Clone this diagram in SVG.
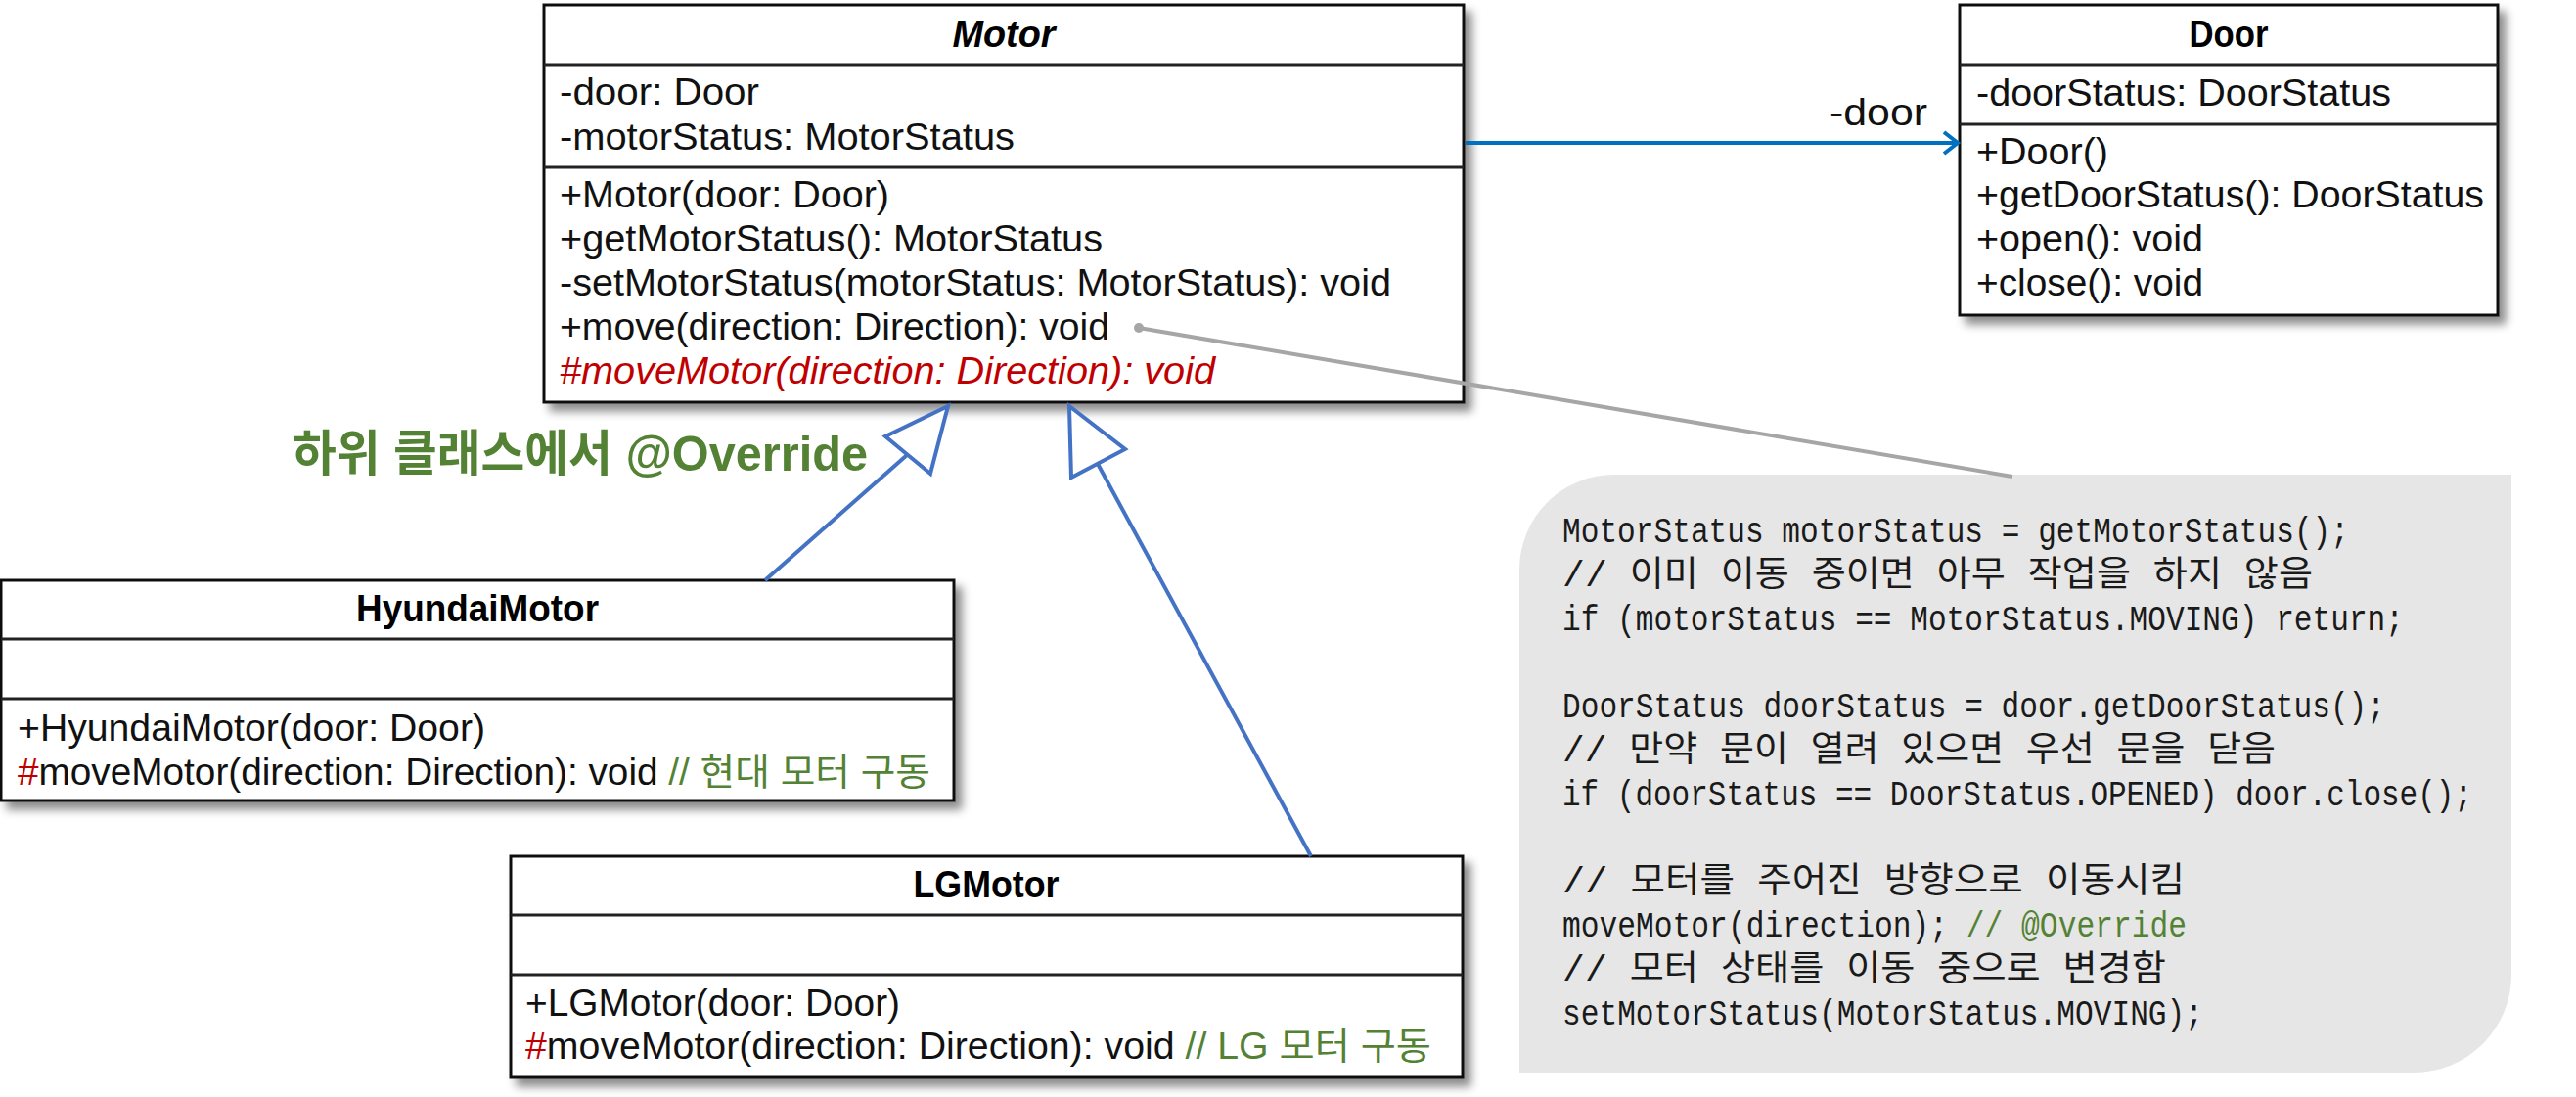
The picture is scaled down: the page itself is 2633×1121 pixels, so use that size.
<svg xmlns="http://www.w3.org/2000/svg" width="2633" height="1121" viewBox="0 0 2633 1121">
<defs>
<filter id="sh" x="-5%" y="-5%" width="115%" height="125%">
<feDropShadow dx="7" dy="8" stdDeviation="5" flood-color="#000" flood-opacity="0.45"/>
</filter>
</defs>
<style>
.box{fill:#fff;stroke:#111;stroke-width:3}
.div{stroke:#222;stroke-width:3}
.t{font-family:"Liberation Sans","Noto Sans CJK KR",sans-serif;font-size:38px;fill:#111}
.ttl{font-family:"Liberation Sans","Noto Sans CJK KR",sans-serif;font-size:38px;font-weight:bold;fill:#000;text-anchor:middle}
.code{font-family:"Liberation Mono","Noto Sans CJK KR",monospace;font-size:36px;fill:#1a1a1a}
.red{fill:#C00000}
.grn{fill:#548235}
.gen{fill:none;stroke:#4472C4;stroke-width:4}
.tri{fill:#fff;stroke:#4472C4;stroke-width:4;stroke-linejoin:miter}
</style>
<rect width="2633" height="1121" fill="#fff"/>

<g id="note">
<path d="M1650,485 L2567,485 L2567,996 A100,100 0 0 1 2467,1096 L1553,1096 L1553,582 A97,97 0 0 1 1650,485 Z" fill="#E6E6E6"/>
<text class="code" x="1597" y="554" textLength="804" lengthAdjust="spacingAndGlyphs">MotorStatus motorStatus = getMotorStatus();</text>
<text class="code" x="1597" y="599" textLength="767" lengthAdjust="spacingAndGlyphs">// 이미 이동 중이면 아무 작업을 하지 않음</text>
<text class="code" x="1597" y="644" textLength="860" lengthAdjust="spacingAndGlyphs">if (motorStatus == MotorStatus.MOVING) return;</text>
<text class="code" x="1597" y="733" textLength="841" lengthAdjust="spacingAndGlyphs">DoorStatus doorStatus = door.getDoorStatus();</text>
<text class="code" x="1597" y="778" textLength="729" lengthAdjust="spacingAndGlyphs">// 만약 문이 열려 있으면 우선 문을 닫음</text>
<text class="code" x="1597" y="823" textLength="930" lengthAdjust="spacingAndGlyphs">if (doorStatus == DoorStatus.OPENED) door.close();</text>
<text class="code" x="1597" y="912" textLength="636" lengthAdjust="spacingAndGlyphs">// 모터를 주어진 방향으로 이동시킴</text>
<text class="code" x="1597" y="957" textLength="638" lengthAdjust="spacingAndGlyphs">moveMotor(direction); <tspan style="fill:#548235">// @Override</tspan></text>
<text class="code" x="1597" y="1002" textLength="617" lengthAdjust="spacingAndGlyphs">// 모터 상태를 이동 중으로 변경함</text>
<text class="code" x="1597" y="1047" textLength="655" lengthAdjust="spacingAndGlyphs">setMotorStatus(MotorStatus.MOVING);</text>
</g>

<g id="Motor">
<rect class="box" x="556" y="5" width="940" height="406" filter="url(#sh)"/>
<line class="div" x1="556" y1="66" x2="1496" y2="66"/>
<line class="div" x1="556" y1="171" x2="1496" y2="171"/>
<text class="ttl" x="1026" y="48" font-style="italic" textLength="105" lengthAdjust="spacingAndGlyphs">Motor</text>
<text class="t" x="572" y="107" textLength="204" lengthAdjust="spacingAndGlyphs">-door: Door</text>
<text class="t" x="572" y="153" textLength="465" lengthAdjust="spacingAndGlyphs">-motorStatus: MotorStatus</text>
<text class="t" x="572" y="212" textLength="337" lengthAdjust="spacingAndGlyphs">+Motor(door: Door)</text>
<text class="t" x="572" y="257" textLength="555" lengthAdjust="spacingAndGlyphs">+getMotorStatus(): MotorStatus</text>
<text class="t" x="572" y="302" textLength="850" lengthAdjust="spacingAndGlyphs">-setMotorStatus(motorStatus: MotorStatus): void</text>
<text class="t" x="572" y="347" textLength="562" lengthAdjust="spacingAndGlyphs">+move(direction: Direction): void</text>
<text class="t red" x="572" y="392" font-style="italic" textLength="670" lengthAdjust="spacingAndGlyphs">#moveMotor(direction: Direction): void</text>
</g>

<g id="Door">
<rect class="box" x="2003" y="5" width="550" height="317" filter="url(#sh)"/>
<line class="div" x1="2003" y1="66" x2="2553" y2="66"/>
<line class="div" x1="2003" y1="127" x2="2553" y2="127"/>
<text class="ttl" x="2278" y="48" textLength="81" lengthAdjust="spacingAndGlyphs">Door</text>
<text class="t" x="2020" y="108" textLength="424" lengthAdjust="spacingAndGlyphs">-doorStatus: DoorStatus</text>
<text class="t" x="2020" y="168" textLength="135" lengthAdjust="spacingAndGlyphs">+Door()</text>
<text class="t" x="2020" y="212" textLength="519" lengthAdjust="spacingAndGlyphs">+getDoorStatus(): DoorStatus</text>
<text class="t" x="2020" y="257" textLength="232" lengthAdjust="spacingAndGlyphs">+open(): void</text>
<text class="t" x="2020" y="302" textLength="232" lengthAdjust="spacingAndGlyphs">+close(): void</text>
</g>

<g id="HyundaiMotor">
<rect class="box" x="1" y="593" width="974" height="225" filter="url(#sh)"/>
<line class="div" x1="1" y1="653" x2="975" y2="653"/>
<line class="div" x1="1" y1="714" x2="975" y2="714"/>
<text class="ttl" x="488" y="635" textLength="248" lengthAdjust="spacingAndGlyphs">HyundaiMotor</text>
<text class="t" x="18" y="757" textLength="478" lengthAdjust="spacingAndGlyphs">+HyundaiMotor(door: Door)</text>
<text class="t" x="18" y="802" textLength="933" lengthAdjust="spacingAndGlyphs"><tspan class="red">#</tspan>moveMotor(direction: Direction): void <tspan class="grn">// 현대 모터 구동</tspan></text>
</g>

<g id="LGMotor">
<rect class="box" x="522" y="875" width="973" height="226" filter="url(#sh)"/>
<line class="div" x1="522" y1="935" x2="1495" y2="935"/>
<line class="div" x1="522" y1="996" x2="1495" y2="996"/>
<text class="ttl" x="1008" y="917" textLength="149" lengthAdjust="spacingAndGlyphs">LGMotor</text>
<text class="t" x="537" y="1038" textLength="383" lengthAdjust="spacingAndGlyphs">+LGMotor(door: Door)</text>
<text class="t" x="537" y="1082" textLength="926" lengthAdjust="spacingAndGlyphs"><tspan class="red">#</tspan>moveMotor(direction: Direction): void <tspan class="grn">// LG 모터 구동</tspan></text>
</g>

<g id="connectors">
<line x1="1164" y1="335" x2="2057" y2="487" stroke="#A6A6A6" stroke-width="4"/>
<circle cx="1164" cy="335" r="5" fill="#A6A6A6"/>
<line x1="1498" y1="146" x2="2001" y2="146" stroke="#0070C0" stroke-width="4"/>
<path d="M1987,135 L2001,146 L1987,157" fill="none" stroke="#0070C0" stroke-width="4"/>
<text class="t" x="1870" y="128" textLength="100" lengthAdjust="spacingAndGlyphs">-door</text>
<line class="gen" x1="782" y1="593" x2="927" y2="465"/>
<polygon class="tri" points="969,415 905,446 951,484"/>
<line class="gen" x1="1340" y1="875" x2="1122" y2="474"/>
<polygon class="tri" points="1093,415 1150,459 1095,488"/>
<text x="299" y="481" font-family="Liberation Sans,'Noto Sans CJK KR',sans-serif" font-size="50" font-weight="bold" fill="#548235" textLength="588" lengthAdjust="spacingAndGlyphs">하위 클래스에서 @Override</text>
</g>
</svg>
